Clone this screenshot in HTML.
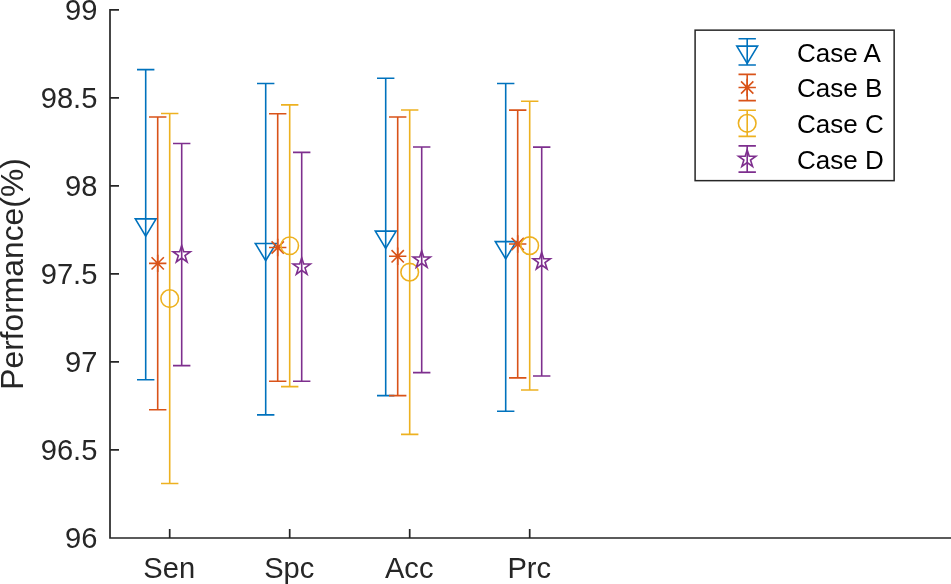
<!DOCTYPE html>
<html><head><meta charset="utf-8"><style>
html,body{margin:0;padding:0;background:#fff;}
svg{display:block;will-change:transform;font-family:"Liberation Sans",sans-serif;}
</style></head><body>
<svg width="951" height="584" viewBox="0 0 951 584">
<rect width="951" height="584" fill="#fff"/>
<path d="M110.0,9.8V538.0H951" stroke="#262626" stroke-width="1.7" fill="none" stroke-linecap="square"/>
<path d="M110.0,9.80H119.0M110.0,97.80H119.0M110.0,185.80H119.0M110.0,273.80H119.0M110.0,361.80H119.0M110.0,449.80H119.0M169.7,538.0V529.0M289.7,538.0V529.0M409.7,538.0V529.0M529.7,538.0V529.0" stroke="#262626" stroke-width="1.7" fill="none"/>
<text x="97.35" y="20" text-anchor="end" font-size="29.1" fill="#262626">99</text>
<text x="97.35" y="108" text-anchor="end" font-size="29.1" fill="#262626">98.5</text>
<text x="97.35" y="196" text-anchor="end" font-size="29.1" fill="#262626">98</text>
<text x="97.35" y="284" text-anchor="end" font-size="29.1" fill="#262626">97.5</text>
<text x="97.35" y="372" text-anchor="end" font-size="29.1" fill="#262626">97</text>
<text x="97.35" y="460" text-anchor="end" font-size="29.1" fill="#262626">96.5</text>
<text x="97.35" y="548" text-anchor="end" font-size="29.1" fill="#262626">96</text>
<text x="169.20" y="578" text-anchor="middle" font-size="29.1" fill="#262626">Sen</text>
<text x="289.20" y="578" text-anchor="middle" font-size="29.1" fill="#262626">Spc</text>
<text x="409.20" y="578" text-anchor="middle" font-size="29.1" fill="#262626">Acc</text>
<text x="529.20" y="578" text-anchor="middle" font-size="29.1" fill="#262626">Prc</text>
<text transform="translate(22.8,274) rotate(-90)" text-anchor="middle" font-size="31.8" fill="#262626">Performance(%)</text>
<path d="M145.70,69.60V379.70M137.00,69.60H154.40M137.00,379.70H154.40" stroke="#0072BD" stroke-width="1.6" fill="none"/>
<path d="M135.30,218.92H156.10L145.70,236.12Z" fill="none" stroke="#0072BD" stroke-width="1.6" stroke-linejoin="miter"/>
<path d="M265.70,83.50V414.90M257.00,83.50H274.40M257.00,414.90H274.40" stroke="#0072BD" stroke-width="1.6" fill="none"/>
<path d="M255.30,243.47H276.10L265.70,260.67Z" fill="none" stroke="#0072BD" stroke-width="1.6" stroke-linejoin="miter"/>
<path d="M385.70,78.20V395.60M377.00,78.20H394.40M377.00,395.60H394.40" stroke="#0072BD" stroke-width="1.6" fill="none"/>
<path d="M375.30,231.17H396.10L385.70,248.37Z" fill="none" stroke="#0072BD" stroke-width="1.6" stroke-linejoin="miter"/>
<path d="M505.70,83.50V411.30M497.00,83.50H514.40M497.00,411.30H514.40" stroke="#0072BD" stroke-width="1.6" fill="none"/>
<path d="M495.30,241.67H516.10L505.70,258.87Z" fill="none" stroke="#0072BD" stroke-width="1.6" stroke-linejoin="miter"/>
<path d="M157.70,117.00V409.70M149.00,117.00H166.40M149.00,409.70H166.40" stroke="#D95319" stroke-width="1.6" fill="none"/>
<path d="M149.00,263.35L166.40,263.35M151.55,257.20L163.85,269.50M157.70,254.65L157.70,272.05M163.85,257.20L151.55,269.50" stroke="#D95319" stroke-width="1.6" fill="none"/>
<path d="M277.70,113.70V381.30M269.00,113.70H286.40M269.00,381.30H286.40" stroke="#D95319" stroke-width="1.6" fill="none"/>
<path d="M269.00,247.50L286.40,247.50M271.55,241.35L283.85,253.65M277.70,238.80L277.70,256.20M283.85,241.35L271.55,253.65" stroke="#D95319" stroke-width="1.6" fill="none"/>
<path d="M397.70,117.00V395.60M389.00,117.00H406.40M389.00,395.60H406.40" stroke="#D95319" stroke-width="1.6" fill="none"/>
<path d="M389.00,256.30L406.40,256.30M391.55,250.15L403.85,262.45M397.70,247.60L397.70,265.00M403.85,250.15L391.55,262.45" stroke="#D95319" stroke-width="1.6" fill="none"/>
<path d="M517.70,110.10V377.90M509.00,110.10H526.40M509.00,377.90H526.40" stroke="#D95319" stroke-width="1.6" fill="none"/>
<path d="M509.00,244.00L526.40,244.00M511.55,237.85L523.85,250.15M517.70,235.30L517.70,252.70M523.85,237.85L511.55,250.15" stroke="#D95319" stroke-width="1.6" fill="none"/>
<path d="M169.70,113.55V483.55M161.00,113.55H178.40M161.00,483.55H178.40" stroke="#EDB120" stroke-width="1.6" fill="none"/>
<circle cx="169.70" cy="298.55" r="8.8" fill="none" stroke="#EDB120" stroke-width="1.6"/>
<path d="M289.70,104.90V386.60M281.00,104.90H298.40M281.00,386.60H298.40" stroke="#EDB120" stroke-width="1.6" fill="none"/>
<circle cx="289.70" cy="245.75" r="8.8" fill="none" stroke="#EDB120" stroke-width="1.6"/>
<path d="M409.70,110.00V434.40M401.00,110.00H418.40M401.00,434.40H418.40" stroke="#EDB120" stroke-width="1.6" fill="none"/>
<circle cx="409.70" cy="272.20" r="8.8" fill="none" stroke="#EDB120" stroke-width="1.6"/>
<path d="M529.70,101.30V390.00M521.00,101.30H538.40M521.00,390.00H538.40" stroke="#EDB120" stroke-width="1.6" fill="none"/>
<circle cx="529.70" cy="245.65" r="8.8" fill="none" stroke="#EDB120" stroke-width="1.6"/>
<path d="M181.70,143.50V365.60M173.00,143.50H190.40M173.00,365.60H190.40" stroke="#7E2F8E" stroke-width="1.6" fill="none"/>
<polygon points="181.70,245.45 183.74,251.74 190.35,251.74 185.01,255.62 187.05,261.91 181.70,258.03 176.35,261.91 178.39,255.62 173.05,251.74 179.66,251.74" fill="none" stroke="#7E2F8E" stroke-width="1.6" stroke-linejoin="miter"/>
<path d="M301.70,152.40V381.30M293.00,152.40H310.40M293.00,381.30H310.40" stroke="#7E2F8E" stroke-width="1.6" fill="none"/>
<polygon points="301.70,257.75 303.74,264.04 310.35,264.04 305.01,267.92 307.05,274.21 301.70,270.33 296.35,274.21 298.39,267.92 293.05,264.04 299.66,264.04" fill="none" stroke="#7E2F8E" stroke-width="1.6" stroke-linejoin="miter"/>
<path d="M421.70,147.00V372.60M413.00,147.00H430.40M413.00,372.60H430.40" stroke="#7E2F8E" stroke-width="1.6" fill="none"/>
<polygon points="421.70,250.70 423.74,256.99 430.35,256.99 425.01,260.87 427.05,267.16 421.70,263.28 416.35,267.16 418.39,260.87 413.05,256.99 419.66,256.99" fill="none" stroke="#7E2F8E" stroke-width="1.6" stroke-linejoin="miter"/>
<path d="M541.70,147.10V376.00M533.00,147.10H550.40M533.00,376.00H550.40" stroke="#7E2F8E" stroke-width="1.6" fill="none"/>
<polygon points="541.70,252.45 543.74,258.74 550.35,258.74 545.01,262.62 547.05,268.91 541.70,265.03 536.35,268.91 538.39,262.62 533.05,258.74 539.66,258.74" fill="none" stroke="#7E2F8E" stroke-width="1.6" stroke-linejoin="miter"/>
<rect x="695.1" y="30.15" width="199.05" height="150.5" fill="#fff" stroke="#262626" stroke-width="1.5"/>
<path d="M747.20,38.80V65.00M738.50,38.80H755.90M738.50,65.00H755.90" stroke="#0072BD" stroke-width="1.6" fill="none"/>
<path d="M736.80,46.17H757.60L747.20,63.37Z" fill="none" stroke="#0072BD" stroke-width="1.6" stroke-linejoin="miter"/>
<text x="797" y="61.80" font-size="26" fill="#000">Case A</text>
<path d="M747.20,74.40V100.60M738.50,74.40H755.90M738.50,100.60H755.90" stroke="#D95319" stroke-width="1.6" fill="none"/>
<path d="M738.50,87.50L755.90,87.50M741.05,81.35L753.35,93.65M747.20,78.80L747.20,96.20M753.35,81.35L741.05,93.65" stroke="#D95319" stroke-width="1.6" fill="none"/>
<text x="797" y="97.40" font-size="26" fill="#000">Case B</text>
<path d="M747.20,110.20V136.40M738.50,110.20H755.90M738.50,136.40H755.90" stroke="#EDB120" stroke-width="1.6" fill="none"/>
<circle cx="747.20" cy="123.30" r="8.8" fill="none" stroke="#EDB120" stroke-width="1.6"/>
<text x="797" y="133.20" font-size="26" fill="#000">Case C</text>
<path d="M747.20,145.90V172.10M738.50,145.90H755.90M738.50,172.10H755.90" stroke="#7E2F8E" stroke-width="1.6" fill="none"/>
<polygon points="747.20,149.90 749.24,156.19 755.85,156.19 750.51,160.07 752.55,166.36 747.20,162.48 741.85,166.36 743.89,160.07 738.55,156.19 745.16,156.19" fill="none" stroke="#7E2F8E" stroke-width="1.6" stroke-linejoin="miter"/>
<text x="797" y="168.90" font-size="26" fill="#000">Case D</text>
</svg>
</body></html>
